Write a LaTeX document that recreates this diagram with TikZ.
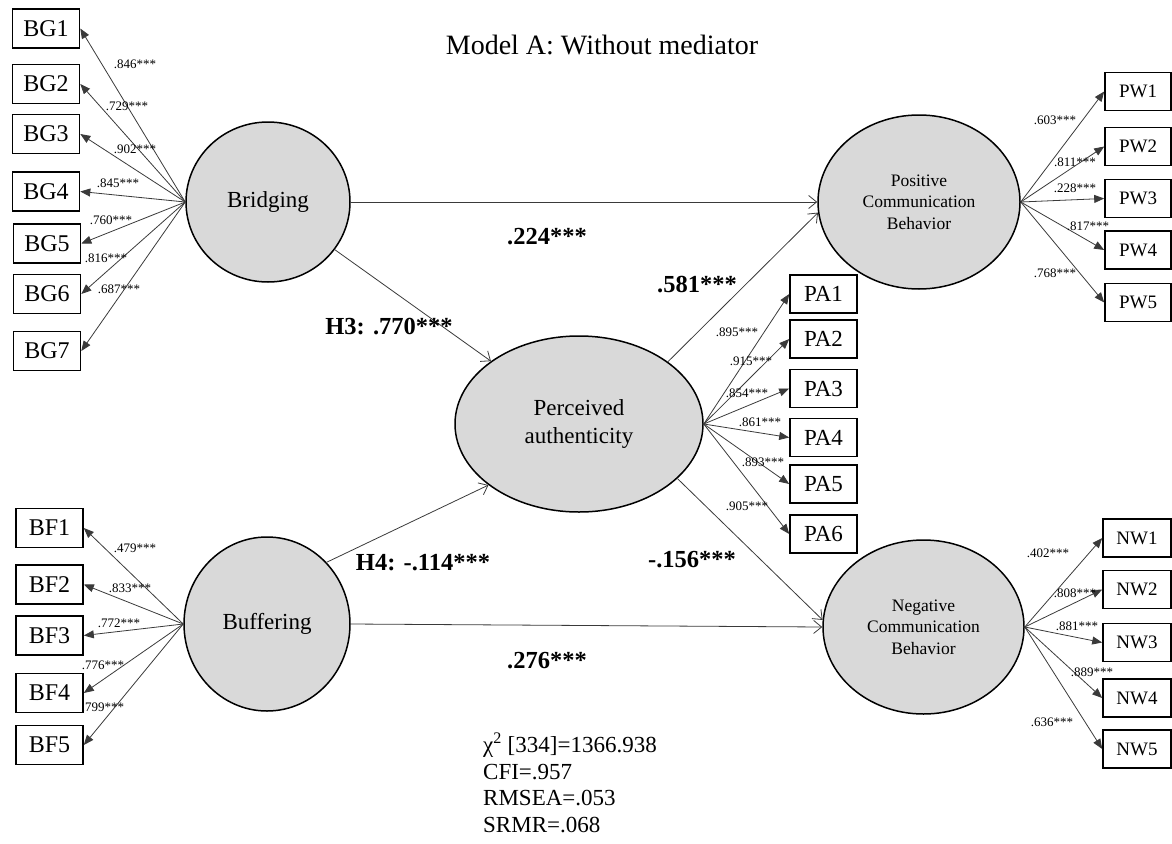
\documentclass[tikz,border=0pt]{standalone}
\usepackage{fontspec}
\setmainfont{Liberation Serif}
\usetikzlibrary{shapes.geometric,arrows.meta}
\definecolor{latgray}{HTML}{D9D9D9}
\definecolor{linegray}{HTML}{3A3A3A}
\begin{document}
\begin{tikzpicture}[x=1pt,y=-1pt,
  lat/.style={ellipse, draw=black, line width=1.5pt, fill=latgray, inner sep=0pt, align=center},
  ind/.style={draw=black, line width=1.6pt, fill=white, minimum width=67pt, minimum height=39pt, inner sep=0pt},
  load/.style={-{Triangle[length=10pt,width=8pt]}, line width=0.8pt, draw=linegray},
  structarrow/.style={-{Straight Barb[length=8pt,width=13pt]}, line width=0.8pt, draw=linegray},
  coef/.style={font=\fontsize{13}{13}\selectfont, inner sep=0pt},
  bcoef/.style={font=\fontsize{24.5}{24.5}\selectfont\bfseries, inner sep=0pt},
  lfont/.style={font=\fontsize{24}{24}\selectfont},
  pfont/.style={font=\fontsize{23}{23}\selectfont},
  rfont/.style={font=\fontsize{19}{19}\selectfont}
]
\useasboundingbox (0,0) rectangle (1172,843);

% title
\node[font=\fontsize{28}{28}\selectfont] (title) at (602,45) {Model A: Without mediator};

% latent variables
\node[lat, minimum width=164pt, minimum height=160pt, font=\fontsize{23}{23}\selectfont] (brid) at (268,202) {Bridging};
\node[lat, minimum width=166pt, minimum height=174pt, font=\fontsize{23}{23}\selectfont] (buff) at (267,624) {Buffering};
\node[lat, minimum width=248pt, minimum height=176pt, font=\fontsize{23}{28}\selectfont] (pa) at (579,424) {Perceived\\authenticity};
\node[lat, minimum width=202pt, minimum height=174pt, font=\fontsize{17.5}{21.5}\selectfont] (pcb) at (919,202) {Positive\\Communication\\Behavior};
\node[lat, minimum width=201pt, minimum height=174pt, font=\fontsize{17.5}{21.5}\selectfont] (ncb) at (923.5,627) {Negative\\Communication\\Behavior};

% indicators
\node[ind, lfont] (bg1) at (46,28.5) {BG1};
\node[ind, lfont] (bg2) at (46,84) {BG2};
\node[ind, lfont] (bg3) at (46,134) {BG3};
\node[ind, lfont] (bg4) at (46,191.5) {BG4};
\node[ind, lfont] (bg5) at (47,243.5) {BG5};
\node[ind, lfont] (bg6) at (47,294) {BG6};
\node[ind, lfont] (bg7) at (47,351) {BG7};

\node[ind, lfont] (bf1) at (49.5,528) {BF1};
\node[ind, lfont] (bf2) at (49.5,584.5) {BF2};
\node[ind, lfont] (bf3) at (49.5,635.5) {BF3};
\node[ind, lfont] (bf4) at (49.5,693) {BF4};
\node[ind, lfont] (bf5) at (49.5,745) {BF5};

\node[ind, pfont, minimum height=38pt] (pa1) at (823.5,294) {PA1};
\node[ind, pfont, minimum height=38pt] (pa2) at (823.5,339) {PA2};
\node[ind, pfont, minimum height=38pt] (pa3) at (823.5,388.5) {PA3};
\node[ind, pfont, minimum height=38pt] (pa4) at (823.5,437.5) {PA4};
\node[ind, pfont, minimum height=38pt] (pa5) at (823.5,484) {PA5};
\node[ind, pfont, minimum height=38pt] (pa6) at (823.5,534) {PA6};

\node[ind, rfont, minimum width=66pt, minimum height=38pt] (pw1) at (1138,91.5) {PW1};
\node[ind, rfont, minimum width=66pt, minimum height=38pt] (pw2) at (1138,146.5) {PW2};
\node[ind, rfont, minimum width=66pt, minimum height=38pt] (pw3) at (1138,198.5) {PW3};
\node[ind, rfont, minimum width=66pt, minimum height=38pt] (pw4) at (1138,250) {PW4};
\node[ind, rfont, minimum width=66pt, minimum height=38pt] (pw5) at (1138,302.5) {PW5};

\node[ind, rfont, minimum width=68pt, minimum height=38pt] (nw1) at (1137,538) {NW1};
\node[ind, rfont, minimum width=68pt, minimum height=38pt] (nw2) at (1137,589.5) {NW2};
\node[ind, rfont, minimum width=68pt, minimum height=38pt] (nw3) at (1137,642.5) {NW3};
\node[ind, rfont, minimum width=68pt, minimum height=38pt] (nw4) at (1137,698) {NW4};
\node[ind, rfont, minimum width=68pt, minimum height=38pt] (nw5) at (1137,749) {NW5};

% loadings
\foreach \i in {1,...,7} \draw[load] (brid.west) -- (bg\i.east);
\foreach \i in {1,...,5} \draw[load] (buff.west) -- (bf\i.east);
\foreach \i in {1,...,6} \draw[load] (pa.east) -- (pa\i.west);
\foreach \i in {1,...,5} \draw[load] (pcb.east) -- (pw\i.west);
\foreach \i in {1,...,5} \draw[load] (ncb.east) -- (nw\i.west);

% structural paths
\draw[structarrow] (brid.east) -- (pcb.west);
\draw[structarrow] (brid) -- (pa);
\draw[structarrow] (buff.46) -- (pa.214);
\draw[structarrow] (buff.east) -- (ncb.west);
\draw[structarrow] (pa.35) -- (pcb.186);
\draw[structarrow] (pa.-29) -- (ncb.176);

% loading labels
\node[coef] (lbg1) at (135,64) {.846***};
\node[coef] (lbg2) at (127,106) {.729***};
\node[coef] (lbg3) at (135,149) {.902***};
\node[coef] (lbg4) at (118,183) {.845***};
\node[coef] (lbg5) at (111,220) {.760***};
\node[coef] (lbg6) at (106,258) {.816***};
\node[coef] (lbg7) at (119,289) {.687***};

\node[coef] (lbf1) at (135,548) {.479***};
\node[coef] (lbf2) at (130,588) {.833***};
\node[coef] (lbf3) at (119,623) {.772***};
\node[coef] (lbf4) at (103,665) {.776***};
\node[coef] (lbf5) at (103,707) {.799***};

\node[coef] (lpa1) at (737,332) {.895***};
\node[coef] (lpa2) at (751,361) {.915***};
\node[coef] (lpa3) at (747,393) {.854***};
\node[coef] (lpa4) at (760,422) {.861***};
\node[coef] (lpa5) at (763,462) {.893***};
\node[coef] (lpa6) at (747,506) {.905***};

\node[coef] (lpw1) at (1055,120) {.603***};
\node[coef] (lpw2) at (1075,162) {.811***};
\node[coef] (lpw3) at (1075,188) {.228***};
\node[coef] (lpw4) at (1088,226) {.817***};
\node[coef] (lpw5) at (1055,273) {.768***};

\node[coef] (lnw1) at (1048,553) {.402***};
\node[coef] (lnw2) at (1075,593) {.808***};
\node[coef] (lnw3) at (1077,626) {.881***};
\node[coef] (lnw4) at (1092,672) {.889***};
\node[coef] (lnw5) at (1052,722) {.636***};

% path coefficients
\node[bcoef] (c224) at (547,237) {.224***};
\node[bcoef] (c581) at (697,285) {.581***};
\node[bcoef] (c770) at (389,327) {H3: .770***};
\node[bcoef] (c114) at (423,563) {H4: -.114***};
\node[bcoef] (c156) at (692,560) {-.156***};
\node[bcoef] (c276) at (547,661) {.276***};

% fit statistics
\node[anchor=north west, align=left, inner sep=0pt, font=\fontsize{23}{26.5}\selectfont] (fit) at (483,733)
  {χ\textsuperscript{2} [334]=1366.938\\CFI=.957\\RMSEA=.053\\SRMR=.068};
\end{tikzpicture}
\end{document}
